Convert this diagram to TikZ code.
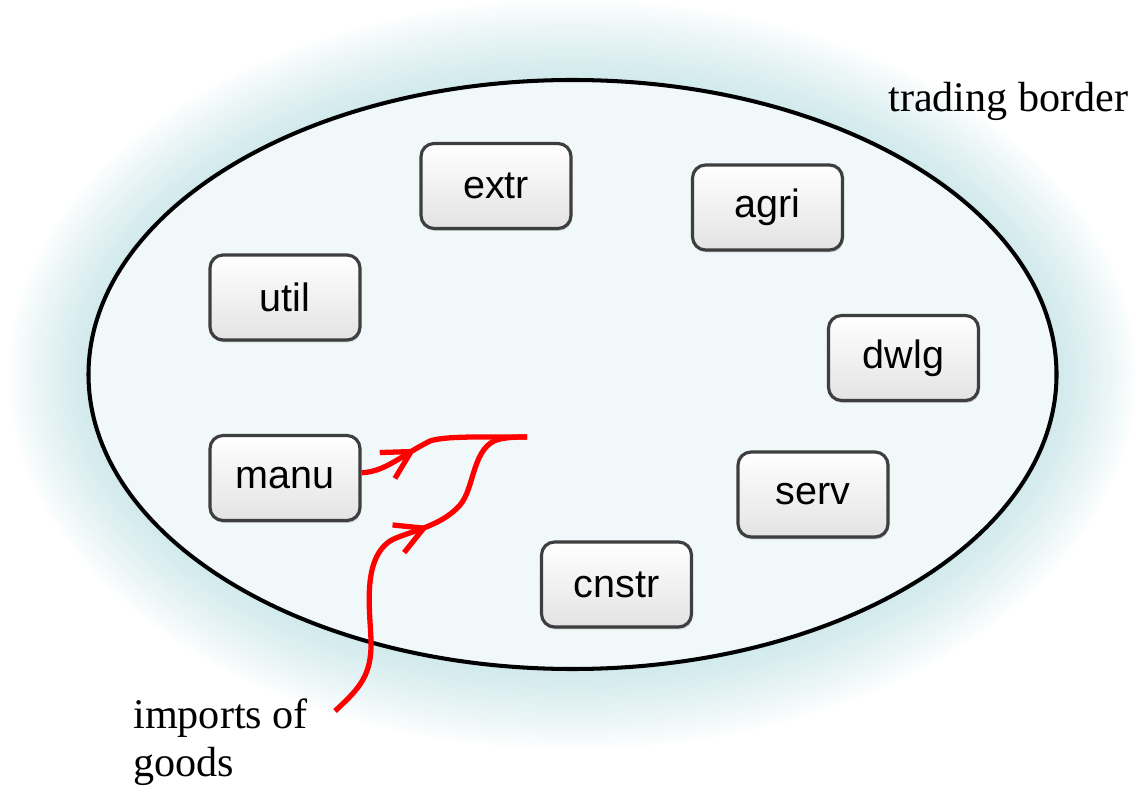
\documentclass[tikz,border=0pt]{standalone}
\usepackage{fontspec}
\setmainfont{Liberation Serif}
\newfontfamily\boxfont{Liberation Sans}
\usetikzlibrary{arrows.meta,shadows,decorations.markings}
\definecolor{halo}{RGB}{150,205,212}
\definecolor{inside}{RGB}{240,248,249}
\definecolor{boxline}{RGB}{62,62,62}
\tikzset{
  sector/.style={draw=boxline,line width=1.8pt,rounded corners=0.26cm,
            minimum width=3.0cm,minimum height=1.7cm,
            top color=white,middle color=white,bottom color=gray!22,
            font=\boxfont\fontsize{22.5}{26}\selectfont,
            drop shadow={shadow xshift=0.6pt,shadow yshift=-1.4pt,opacity=0.35}},
  note/.style={font=\fontsize{24}{27.5}\selectfont,inner sep=0pt},
  flow/.style={red,line width=3pt},
  chevron/.style={postaction={decorate,decoration={markings,
            mark=at position #1 with {\arrow{Straight Barb[length=0.55cm,width=0.6cm]}}}}},
}

\begin{document}
\begin{tikzpicture}[x=0.02cm,y=-0.02cm]
  \useasboundingbox (0,0) rectangle (1138,786);
  \coordinate (hub) at (572.5,374.5);

  % soft glow round the border
  \foreach \k in {1,...,20}
    \fill[halo,opacity=0.026] (hub) ellipse [x radius=484+4*\k, y radius=294.5+4*\k];
  \fill[inside] (hub) ellipse [x radius=484, y radius=294.5];
  \draw[line width=2.3pt] (hub) ellipse [x radius=484, y radius=294.5];

  % sectors
  \node[sector] (extr)  at (496,186)   {extr};
  \node[sector] (agri)  at (767.5,207.5) {agri};
  \node[sector] (util)  at (285,297.5) {util};
  \node[sector] (dwlg)  at (903.5,358) {dwlg};
  \node[sector] (manu)  at (285,478)   {manu};
  \node[sector] (serv)  at (813,494.5) {serv};
  \node[sector] (cnstr) at (616.5,584.5) {cnstr};

  \node[note,anchor=base west] (border) at (888,112) {trading border};
  \node[note,anchor=north west,align=left] (imports) at (133,698) {imports of\\goods};

  % goods flows
  \coordinate (meet)   at (527,437);
  \coordinate (inflow) at (335,711);
  \draw[flow,chevron=1.2cm] ([yshift=3pt]manu.east)
    .. controls (385,472) and (402,455) .. (430,441)
    .. controls (445,436) and (480,437) .. (meet);
  \draw[flow,chevron=4.6cm] (inflow)
    .. controls (360,688) and (372,675) .. (371,640)
    .. controls (370,610) and (362,560) .. (390,541)
    .. controls (405,532) and (440,528) .. (460,505)
    .. controls (475,488) and (472,445) .. (500,439)
    .. controls (510,437) and (520,437) .. (meet);
\end{tikzpicture}
\end{document}
